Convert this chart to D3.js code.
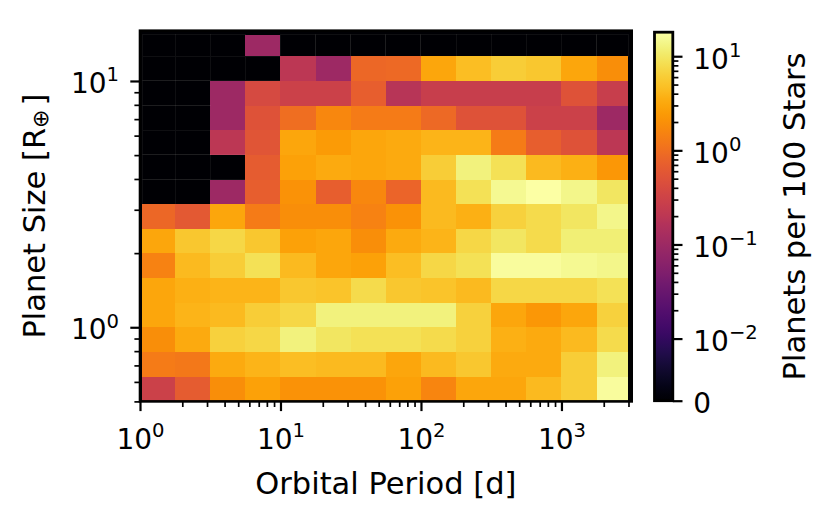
<!DOCTYPE html>
<html>
<head>
<meta charset="utf-8">
<script src="https://cdn.jsdelivr.net/npm/d3@7"></script>
<style>
  body { margin: 0; background: #fff; }
  text { font-family: "DejaVu Sans", sans-serif; fill: #000; }
</style>
</head>
<body>
<script>
// bin edges of the occurrence grid
var periodEdges = [1.04, 1.78, 3.16, 5.62, 10, 17.8, 31.6, 56.2, 100, 178, 316, 562, 1000, 1780, 3000];
var radiusEdges = [0.5, 0.63, 0.79, 1.0, 1.26, 1.58, 2.0, 2.51, 3.16, 3.98, 5.01, 6.31, 7.94, 10, 12.6, 15.4];

// planets per 100 stars, one row per radius bin, largest radius first
var rates = [
  [0, 0, 0, 0.1, 0, 0, 0, 0, 0, 0, 0, 0, 0, 0],
  [0, 0, 0, 0, 0.2, 0.1, 0.85, 0.9, 3.0, 4.7, 6.1, 5.6, 3.0, 1.9],
  [0, 0, 0.1, 0.4, 0.3, 0.3, 0.7, 0.18, 0.27, 0.27, 0.27, 0.27, 0.5, 0.27],
  [0, 0, 0.1, 0.5, 1.0, 1.7, 1.3, 1.3, 0.9, 0.5, 0.5, 0.3, 0.3, 0.1],
  [0, 0, 0.2, 0.55, 3.0, 2.5, 3.0, 3.3, 3.9, 3.9, 1.3, 0.7, 0.5, 0.2],
  [0, 0, 0, 0.65, 2.7, 3.3, 3.0, 3.3, 6.1, 12.5, 8.8, 4.3, 3.6, 2.3],
  [0, 0, 0.1, 0.7, 2.1, 0.7, 1.7, 0.8, 4.3, 8.8, 15, 18, 14, 9.6],
  [0.85, 0.6, 3.0, 1.3, 1.9, 1.9, 1.5, 2.1, 4.3, 3.6, 6.7, 8.0, 9.6, 14],
  [3.0, 5.6, 7.3, 5.6, 2.7, 3.0, 1.9, 3.3, 3.9, 7.3, 9.6, 8.0, 11.5, 11.5],
  [1.5, 4.3, 6.1, 8.8, 4.3, 3.0, 2.7, 4.7, 7.3, 8.8, 16.5, 16.5, 15, 14],
  [3.0, 3.6, 3.9, 3.9, 5.6, 5.1, 8.0, 5.6, 5.1, 4.3, 7.3, 7.3, 7.3, 8.8],
  [3.0, 3.9, 4.3, 6.1, 7.3, 12.5, 12.5, 12.5, 12.5, 6.7, 3.0, 2.3, 3.0, 6.7],
  [1.9, 3.3, 6.7, 7.3, 12.5, 9.6, 8.8, 8.8, 8.0, 6.7, 3.6, 3.3, 4.3, 8.0],
  [1.3, 1.2, 3.3, 3.9, 4.7, 4.3, 4.3, 3.0, 4.3, 5.6, 3.3, 3.3, 6.1, 12.5],
  [0.3, 0.65, 1.9, 2.7, 2.1, 2.1, 2.1, 2.7, 1.6, 3.0, 3.0, 4.3, 6.1, 16.5]
];

var xTicks = [1, 10, 100, 1000];
var xTickLabels = [["10", "0"], ["10", "1"], ["10", "2"], ["10", "3"]];
var yTicks = [1, 10];
var yTickLabels = [["10", "0"], ["10", "1"]];
var cbTicks = [0, 0.01, 0.1, 1, 10];
var cbTickLabels = [["0", ""], ["10", "\u22122"], ["10", "\u22121"], ["10", "0"], ["10", "1"]];

// colour norm: linear below linthresh, log above (like matplotlib SymLogNorm)
var linthresh = 0.01, linscale = 0.66, vmax = 18;
function symlog(v) {
  return v <= linthresh ? v / linthresh * linscale : linscale + Math.log10(v / linthresh);
}

var margin = { top: 30.7, left: 140 },
  width = 491.7,
  height = 370.7;
var majorLen = 9.7, minorLen = 5.6, pad = 9.7;

var x = d3.scaleLog().domain([1, Math.pow(10, 3.5)]).range([0, width]);
var y = d3.scaleLog().domain([0.5, 16]).range([height, 0]);
var color = d3.scaleSequential(d3.interpolateInferno).domain([0, symlog(vmax)]);

var svg = d3
  .select("body")
  .append("svg")
  .attr("width", 830)
  .attr("height", 523);

var g = svg
  .append("g")
  .attr("transform", "translate(" + margin.left + "," + margin.top + ")");

// axes face is the colormap's low end
g.append("rect")
  .attr("width", width)
  .attr("height", height)
  .attr("fill", color(0));

var cells = [];
rates.forEach(function(row, r) {
  var ri = radiusEdges.length - 2 - r;
  row.forEach(function(v, c) {
    cells.push({ p0: periodEdges[c], p1: periodEdges[c + 1], r0: radiusEdges[ri], r1: radiusEdges[ri + 1], v: v });
  });
});

g.selectAll(".cell")
  .data(cells)
  .enter()
  .append("rect")
  .attr("class", "cell")
  .attr("x", d => x(d.p0))
  .attr("y", d => y(d.r1))
  .attr("width", d => x(d.p1) - x(d.p0))
  .attr("height", d => y(d.r0) - y(d.r1))
  .attr("fill", d => color(symlog(d.v)))
  .attr("shape-rendering", "crispEdges")
  // faint mesh seams, only noticeable on the empty (black) bins
  .attr("stroke", d => (d.v === 0 ? "rgba(255,255,255,0.06)" : "none"))
  .attr("stroke-width", 1);

function sciLabel(sel, labels) {
  sel.each(function(d, i) {
    var t = d3.select(this).text(null);
    t.append("tspan").text(labels[i][0]);
    if (labels[i][1]) {
      t.append("tspan")
        .attr("dy", -11.6)
        .style("font-size", "19.6px")
        .text(labels[i][1]);
    }
  });
}

function styleAxis(ax, w) {
  ax.select(".domain").remove();
  ax.selectAll(".tick line").attr("stroke", "#000").attr("stroke-width", w);
}

// x axis
var xMinor = x.ticks().filter(d => xTicks.indexOf(d) < 0);
var gxm = g.append("g")
  .attr("transform", "translate(0," + height + ")")
  .call(d3.axisBottom(x).tickValues(xMinor).tickSize(minorLen).tickFormat(""));
styleAxis(gxm, 1.7);

var gx = g.append("g")
  .attr("transform", "translate(0," + height + ")")
  .call(d3.axisBottom(x).tickValues(xTicks).tickSize(majorLen).tickPadding(pad));
styleAxis(gx, 2.2);
gx.selectAll(".tick text")
  .attr("y", 47.6)
  .attr("dy", 0)
  .style("font-size", "28px")
  .call(sciLabel, xTickLabels);

// y axis
var yMinor = y.ticks().filter(d => yTicks.indexOf(d) < 0);
var gym = g.append("g")
  .call(d3.axisLeft(y).tickValues(yMinor).tickSize(minorLen).tickFormat(""));
styleAxis(gym, 1.7);

var gy = g.append("g")
  .call(d3.axisLeft(y).tickValues(yTicks).tickSize(majorLen).tickPadding(pad));
styleAxis(gy, 2.2);
gy.selectAll(".tick text")
  .attr("x", -21)
  .attr("dy", 11.5)
  .style("font-size", "28px")
  .call(sciLabel, yTickLabels);

// frame
g.append("rect")
  .attr("width", width)
  .attr("height", height)
  .attr("fill", "none")
  .attr("stroke", "#000")
  .attr("stroke-width", 2.6);

svg.append("text")
  .attr("x", margin.left + width / 2)
  .attr("y", 494)
  .attr("text-anchor", "middle")
  .style("font-size", "30.5px")
  .text("Orbital Period [d]");

var yl = svg.append("text")
  .attr("transform", "translate(45," + (margin.top + height / 2) + ") rotate(-90)")
  .attr("text-anchor", "middle")
  .style("font-size", "30.5px");
yl.append("tspan").text("Planet Size [R");
yl.append("tspan").attr("dy", 3).style("font-size", "22px").text("\u2295");
yl.append("tspan").attr("dy", -3).attr("dx", 4).text("]");

// colour bar
var cb = { left: 654.5, width: 18.3, top: 32.2, bottom: 400.7 };
var cbLin = d3.scaleLinear().domain([0, symlog(vmax)]).range([cb.bottom - cb.top, 0]);
var cbScale = function(v) { return cbLin(symlog(v)); };
cbScale.range = function() { return cbLin.range(); };
cbScale.copy = function() { return cbScale; };

var grad = svg.append("defs")
  .append("linearGradient")
  .attr("id", "cbgrad")
  .attr("x1", 0).attr("y1", 1).attr("x2", 0).attr("y2", 0);
grad.selectAll("stop")
  .data(d3.range(0, 1.0001, 0.02))
  .enter()
  .append("stop")
  .attr("offset", d => d)
  .attr("stop-color", d => d3.interpolateInferno(d));

var gc = svg.append("g")
  .attr("transform", "translate(" + cb.left + "," + cb.top + ")");
gc.append("rect")
  .attr("width", cb.width)
  .attr("height", cb.bottom - cb.top)
  .attr("fill", "url(#cbgrad)");

var cbMinor = d3.scaleLog().domain([0.01, 10]).ticks().filter(d => cbTicks.indexOf(d) < 0);
var gcm = gc.append("g")
  .attr("transform", "translate(" + cb.width + ",0)")
  .call(d3.axisRight(cbScale).tickValues(cbMinor).tickSize(minorLen).tickFormat(""));
styleAxis(gcm, 1.7);

var gcx = gc.append("g")
  .attr("transform", "translate(" + cb.width + ",0)")
  .call(d3.axisRight(cbScale).tickValues(cbTicks).tickSize(majorLen).tickFormat(""));
styleAxis(gcx, 2.2);
gcx.selectAll(".tick text")
  .attr("x", 20.5)
  .attr("dy", 12)
  .style("font-size", "28px")
  .call(sciLabel, cbTickLabels);

gc.append("rect")
  .attr("width", cb.width)
  .attr("height", cb.bottom - cb.top)
  .attr("fill", "none")
  .attr("stroke", "#000")
  .attr("stroke-width", 2.8);

svg.append("text")
  .attr("transform", "translate(805," + (cb.top + cb.bottom) / 2 + ") rotate(-90)")
  .attr("text-anchor", "middle")
  .style("font-size", "30.5px")
  .text("Planets per 100 Stars");
</script>
</body>
</html>
